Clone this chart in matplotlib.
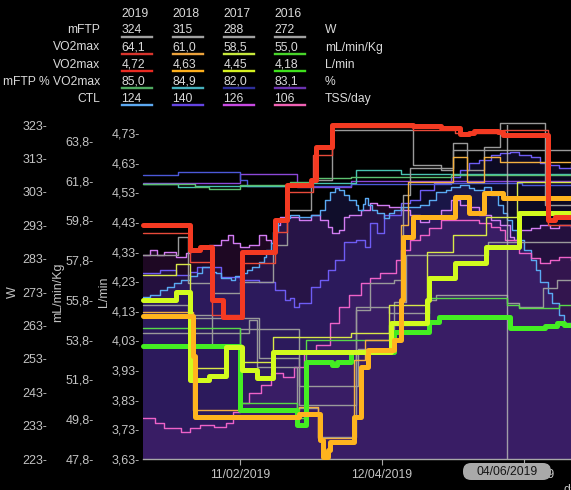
import numpy as np
import matplotlib
matplotlib.use("Agg")
import matplotlib.pyplot as plt
import matplotlib.dates as mdates
from matplotlib.lines import Line2D
from matplotlib.patches import FancyBboxPatch
from matplotlib.transforms import IdentityTransform

plt.rcParams["font.family"] = ["Liberation Sans", "DejaVu Sans"]

# ------------------------------------------------------------------ data
START = "2019-01-01"
END = "2019-06-30T22:00"
cursor_date = "2019-06-04"
x_tick_dates = ["2019-02-11", "2019-04-12", "2019-06-11"]

w_ticks = [223, 233, 243, 253, 263, 273, 283, 293, 303, 313, 323]
ml_ticks = [47.8, 49.8, 51.8, 53.8, 55.8, 57.8, 59.8, 61.8, 63.8]
l_ticks = [3.63, 3.73, 3.83, 3.93, 4.03, 4.13, 4.23, 4.33, 4.43, 4.53, 4.63, 4.73]

years = ["2019", "2018", "2017", "2016"]
row_labels = ["mFTP", "VO2max", "VO2max", "mFTP % VO2max", "CTL"]
row_units = ["W", "mL/min/Kg", "L/min", "%", "TSS/day"]
table_values = [
    ["324", "315", "288", "272"],
    ["64,1", "61,0", "58,5", "55,0"],
    ["4,72", "4,63", "4,45", "4,18"],
    ["85,0", "84,9", "82,0", "83,1"],
    ["124", "140", "126", "106"],
]

# mFTP (W), days since START
mftp_2019_days = [0, 15, 19, 29, 41, 55, 61, 71, 80, 114, 126, 131, 137, 144, 151, 170]
mftp_2019 = [284.1, 289.5, 275.7, 272.7, 276.0, 287.1, 297.6, 306.5, 321.5, 311.0, 309.5, 317.6, 309.5, 316.4, 323.6, 299.0]
mftp_2018_days = [0, 19, 49, 66, 90, 96, 106, 110, 113, 131]
mftp_2018 = [269.1, 265.2, 253.2, 239.2, 267.6, 275.7, 276.6, 302.0, 310.1, 315.5]
mftp_2017_days = [0, 29, 41, 66, 91, 106, 111, 146]
mftp_2017 = [266.0, 257.1, 262.0, 245.0, 256.0, 270.0, 284.1, 288.0]
mftp_2016_days = [0, 45, 48, 65, 74, 90, 104, 121, 124, 154, 159, 169, 175]
mftp_2016 = [260.7, 264.6, 250.5, 238.3, 229.6, 268.5, 266.7, 270.6, 272.1, 269.7, 268.5, 274.2, 276.6]

# VO2max L/min
vo2l_2019_days = [0, 20, 29, 42, 56, 61, 72, 80, 114, 132, 152, 171]
vo2l_2019 = [4.392, 4.295, 4.116, 4.291, 4.396, 4.531, 4.656, 4.750, 4.740, 4.730, 4.740, 4.419]
vo2l_2018_days = [0, 21, 66, 74, 89, 94, 109, 112, 131, 137, 144, 151]
vo2l_2018 = [4.126, 3.795, 3.805, 3.701, 3.964, 4.031, 4.419, 4.565, 4.649, 4.565, 4.649, 4.632]
vo2l_2017_days = [0, 14, 20, 35, 42, 55, 88, 104, 120, 131, 145, 158]
vo2l_2017 = [4.251, 4.288, 3.937, 4.015, 3.957, 4.042, 4.055, 4.150, 4.328, 4.386, 4.446, 4.565]
vo2l_2016_days = [0, 41, 65, 69, 104, 121, 154, 159, 176]
vo2l_2016 = [4.072, 3.819, 3.768, 4.031, 4.082, 4.173, 4.150, 4.139, 4.150]

# VO2max mL/min/Kg
vo2ml_2019_days = [0, 20, 24, 29, 34, 42, 56, 61, 71, 73, 80, 114, 126, 131, 134, 138, 140, 150, 152, 171, 174]
vo2ml_2019 = [59.57, 58.32, 58.47, 55.80, 54.94, 58.22, 59.83, 61.59, 61.84, 63.50, 64.61, 64.55, 64.45, 64.45,
              64.15, 64.20, 64.30, 64.25, 64.10, 59.83, 59.98]
vo2ml_2018_days = [0, 21, 22, 66, 75, 76, 78, 79, 89, 92, 95, 106, 109, 110, 114, 132, 138, 144, 152]
vo2ml_2018 = [54.99, 53.00, 49.91, 50.06, 48.76, 47.90, 48.25, 48.66, 49.91, 52.43, 53.28, 53.79, 55.80, 58.97,
              59.98, 60.98, 60.18, 61.18, 60.93]
vo2ml_2017_days = [0, 14, 20, 28, 35, 42, 48, 55, 105, 120, 121, 132, 145, 159]
vo2ml_2017 = [55.80, 56.20, 51.77, 51.99, 53.44, 52.28, 51.88, 53.18, 54.64, 55.80, 56.91, 57.66, 58.47, 60.18]
vo2ml_2016_days = [0, 41, 65, 69, 80, 82, 88, 106, 121, 125, 155, 170, 175, 178]
vo2ml_2016 = [53.49, 50.27, 49.51, 52.68, 52.53, 52.68, 53.18, 54.19, 54.69, 54.94, 54.39, 54.49, 54.64, 54.54]

# mFTP % VO2max
pct_2019_days = [0, 22, 28, 41, 62, 73, 88, 130]
pct_2019 = [82.3, 81.4, 80.8, 82.0, 82.9, 84.1, 84.4, 85.0]
pct_2018_days = [0, 15, 22, 62, 90, 109]
pct_2018 = [82.3, 81.4, 81.7, 82.6, 86.5, 85.3]
pct_2017_days = [0, 15, 41, 44, 88, 130, 160]
pct_2017 = [85.0, 85.9, 83.5, 81.7, 82.3, 82.6, 82.0]
pct_2016_days = [0, 41, 65, 88]
pct_2016 = [82.6, 85.3, 81.4, 83.1]

# CTL (TSS/day)
ctl_2019_days = [0, 3, 7, 10, 13, 16, 20, 23, 25, 29, 31, 33, 37, 39, 42, 44, 46, 49, 51, 52, 54, 55, 57, 59, 62,
                 66, 71, 75, 77, 79, 81, 83, 85, 87, 90, 91, 93, 94, 95, 97, 99, 102, 104, 106, 109, 113, 117, 121,
                 124, 128, 130, 134, 138, 140, 144, 147, 150, 152, 154, 156, 158, 161, 164, 166, 168, 171, 173, 176, 178]
ctl_2019 = [93.4, 94.0, 95.7, 96.7, 98.0, 99.0, 100.3, 101.3, 103.2, 101.6, 101.3, 99.6, 99.0, 100.3, 101.3, 102.3,
            103.2, 104.9, 106.5, 108.8, 111.2, 114.8, 118.7, 119.4, 120.4, 119.7, 120.4, 122.0, 125.3, 128.0, 129.3,
            128.6, 127.0, 125.3, 123.7, 122.0, 124.0, 126.0, 123.7, 122.0, 121.0, 119.4, 121.0, 122.0, 123.0, 123.0,
            123.7, 125.3, 128.0, 128.6, 129.6, 130.3, 129.3, 128.6, 129.6, 127.0, 123.7, 121.0, 118.7, 115.4, 112.1,
            108.8, 105.6, 102.3, 98.3, 94.7, 91.4, 87.4, 84.8]
ctl_2018_days = [0, 7, 14, 20, 23, 29, 33, 41, 49, 56, 60, 62, 64, 66, 71, 75, 78, 81, 85, 90, 94, 96, 99, 102, 109,
                 113, 117, 123, 130, 134, 138, 142, 147, 151, 155, 159, 164, 168, 172, 176, 181]
ctl_2018 = [101.3, 102.3, 100.6, 101.6, 103.2, 103.2, 99.9, 99.0, 98.3, 95.7, 92.4, 93.0, 90.1, 91.4, 96.7, 99.0,
            102.3, 105.6, 111.5, 112.1, 109.8, 117.7, 114.4, 120.4, 124.3, 125.3, 128.6, 130.9, 132.9, 135.2, 137.5,
            138.5, 140.1, 140.8, 141.1, 140.1, 139.5, 137.5, 136.8, 135.9, 136.8]
ctl_2017_days = [0, 3, 6, 9, 14, 18, 20, 24, 28, 33, 36, 38, 41, 45, 49, 52, 54, 56, 58, 62, 66, 71, 75, 78, 80, 83,
                 85, 87, 92, 96, 99, 104, 109, 113, 117, 121, 126, 130, 134, 138, 142, 147, 151, 155, 157, 159, 164,
                 168, 172, 176, 181]
ctl_2017 = [107.2, 108.8, 107.2, 108.2, 106.5, 107.9, 108.8, 109.5, 110.5, 112.1, 113.8, 111.2, 109.8, 110.5, 113.8,
            112.1, 111.2, 117.1, 119.7, 119.7, 118.7, 120.4, 118.7, 116.4, 114.4, 115.4, 119.7, 120.4, 122.0, 124.3,
            123.7, 123.0, 122.0, 120.4, 118.1, 119.4, 122.0, 125.3, 123.7, 123.0, 120.4, 118.7, 117.1, 113.1, 112.1,
            115.4, 116.1, 117.1, 116.1, 117.1, 116.4]
ctl_2016_days = [0, 5, 9, 16, 20, 24, 30, 35, 38, 41, 45, 50, 54, 59, 64, 68, 73, 79, 83, 87, 92, 96, 100, 107, 109,
                 113, 117, 121, 126, 134, 142, 147, 151, 153, 159, 164, 168, 172, 176, 181]
ctl_2016 = [53.5, 51.9, 50.2, 48.9, 50.2, 51.2, 50.5, 51.9, 55.5, 58.4, 61.7, 64.4, 68.3, 67.0, 70.3, 74.9, 77.6,
            84.8, 90.1, 94.0, 98.0, 99.6, 101.3, 105.6, 108.8, 112.1, 113.8, 116.1, 118.7, 118.7, 117.7, 116.4,
            115.4, 112.1, 107.9, 106.2, 104.6, 105.6, 106.5, 105.6]

# ------------------------------------------------------------------ helpers
FW, FH = 571, 490


def to_dates(days):
    d = np.datetime64(START, "m") + (np.asarray(days) * 24 * 60).astype("timedelta64[m]")
    return np.concatenate([d, [np.datetime64(END, "m")]])


def ext(vals):
    return list(vals) + [vals[-1]]


def step(ax, days, vals, **kw):
    ax.plot(to_dates(days), ext(vals), drawstyle="steps-post", solid_joinstyle="round",
            solid_capstyle="round", clip_on=False, **kw)


def fx(px):
    return px / FW


def fy(py):
    return 1 - py / FH


# ------------------------------------------------------------------ figure
fig = plt.figure(figsize=(FW / 100, FH / 100), dpi=100)
fig.patch.set_facecolor("black")

axL, axB = 143 / FW, 31 / FH
ax_w = fig.add_axes([axL, axB, 1 - axL, 334 / FH])
ax_ctl = ax_w.twinx()
ax_pct = ax_w.twinx()
ax_l = ax_w.twinx()
ax_ml = ax_w.twinx()
for z, a in enumerate([ax_ctl, ax_pct, ax_w, ax_l, ax_ml]):
    a.set_zorder(z + 1)
    a.patch.set_visible(False)
    for s in a.spines.values():
        s.set_visible(False)

# CTL fills + lines
ctl_specs = [
    (ctl_2017_days, ctl_2017, "#d27cf2", "#8c28a0"),
    (ctl_2018_days, ctl_2018, "#6e5cf4", "#3a30a2"),
    (ctl_2019_days, ctl_2019, "#5aaaf2", "#4a42c8"),
    (ctl_2016_days, ctl_2016, "#ee62c8", "#6a2a88"),
]
CTL_LOW = 40
for days, vals, lc, fc in ctl_specs:
    ax_ctl.fill_between(to_dates(days), ext(vals), CTL_LOW, step="post", color=fc, alpha=0.22, lw=0)
for days, vals, lc, fc in ctl_specs:
    ax_ctl.plot(to_dates(days), ext(vals), drawstyle="steps-post", color=lc, lw=1.0)
ax_ctl.set_ylim(CTL_LOW, 150)
ax_ctl.set_yticks([])

# mFTP % lines
for days, vals, c in [(pct_2016_days, pct_2016, "#8c48d8"), (pct_2017_days, pct_2017, "#4c58d8"),
                      (pct_2018_days, pct_2018, "#48c4b0"), (pct_2019_days, pct_2019, "#5cc070")]:
    step(ax_pct, days, vals, color=c, lw=1.0)
ax_pct.set_ylim(0, 100)
ax_pct.set_yticks([])

# mFTP gray lines + cursor
for days, vals in [(mftp_2016_days, mftp_2016), (mftp_2017_days, mftp_2017),
                   (mftp_2018_days, mftp_2018), (mftp_2019_days, mftp_2019)]:
    step(ax_w, days, vals, color="#9a9a9a", lw=1.0)
ax_w.axvline(np.datetime64(cursor_date), color="#b4b4b4", lw=1.0, alpha=0.85)

# VO2max L/min thin lines
for days, vals, c in [(vo2l_2016_days, vo2l_2016, "#58d848"), (vo2l_2017_days, vo2l_2017, "#d8e848"),
                      (vo2l_2018_days, vo2l_2018, "#f4b040"), (vo2l_2019_days, vo2l_2019, "#e84a3a")]:
    step(ax_l, days, vals, color=c, lw=1.0)

# VO2max mL/min/Kg thick lines
for days, vals, c in [(vo2ml_2016_days, vo2ml_2016, "#44ee22"), (vo2ml_2017_days, vo2ml_2017, "#d2fb1e"),
                      (vo2ml_2018_days, vo2ml_2018, "#ffb41e"), (vo2ml_2019_days, vo2ml_2019, "#f43a22")]:
    step(ax_ml, days, vals, color=c, lw=3.6)

# axes limits / ticks
TICK_C = "#c4c4c4"
ax_w.set_xlim(np.datetime64(START), np.datetime64(END))
ax_w.set_ylim(223, 323)
ax_w.set_yticks(w_ticks, labels=[f"{v}-" for v in w_ticks])
ax_w.tick_params(axis="y", length=0, pad=69, labelsize=9, labelcolor=TICK_C)

ax_ml.set_ylim(47.8, 64.6)
ax_ml.yaxis.tick_left()
ax_ml.set_yticks(ml_ticks, labels=[f"{v:.1f}".replace(".", ",") + "-" for v in ml_ticks])
ax_ml.tick_params(axis="y", length=0, pad=35.3, labelsize=9, labelcolor=TICK_C,
                  left=True, right=False, labelleft=True, labelright=False)

ax_l.set_ylim(3.63, 4.757)
ax_l.yaxis.tick_left()
ax_l.set_yticks(l_ticks, labels=[f"{v:.2f}".replace(".", ",") + "-" for v in l_ticks])
ax_l.tick_params(axis="y", length=0, pad=2.2, labelsize=9, labelcolor=TICK_C,
                 left=True, right=False, labelleft=True, labelright=False)

ax_w.set_xticks(np.array(x_tick_dates, dtype="datetime64[D]"))
ax_w.xaxis.set_major_formatter(mdates.DateFormatter("%d/%m/%Y"))
ax_w.xaxis.set_minor_locator(matplotlib.ticker.NullLocator())
ax_w.tick_params(axis="x", length=4, width=0.8, color="#a8a8a8", labelcolor=TICK_C, labelsize=8.7, pad=3)
ax_w.spines["bottom"].set_visible(True)
ax_w.spines["bottom"].set_color("#a8a8a8")
ax_w.spines["bottom"].set_linewidth(1.0)

# axis titles
for x, t in [(13, "W"), (58, "mL/min/Kg"), (104, "L/min")]:
    fig.text(fx(x), fy(292), t, rotation=90, ha="center", va="center", color=TICK_C, fontsize=9)
fig.text(fx(563), fy(490), "date", ha="left", va="center", color=TICK_C, fontsize=8.7)

# cursor date box
box = FancyBboxPatch((463, FH - 480), 88, 17, boxstyle="round,pad=0,rounding_size=8",
                     transform=IdentityTransform(), fc="#a9a9a9", ec="none", zorder=20)
fig.add_artist(box)
cd = np.datetime64(cursor_date).astype(object)
fig.text(fx(507), fy(472), cd.strftime("%d/%m/%Y"), ha="center", va="center",
         color="#151515", fontsize=8.7, zorder=21)

# table
TXT = "#dadada"
col_x = [121.5, 172.5, 223.5, 274.5]
row_base = [33.3, 50.5, 67.5, 84.6, 101.6]
line_y = [36.5, 53.5, 70.7, 87.7, 105.0]
underline_colors = [
    ["#a0a0a0", "#a0a0a0", "#a0a0a0", "#a0a0a0"],
    ["#d8342c", "#eca23c", "#c6e83c", "#48d42a"],
    ["#e82a22", "#fcae1c", "#d4f020", "#3ee01c"],
    ["#4ea860", "#46b0bc", "#2e2e98", "#6a32ae"],
    ["#5ca8f0", "#6444e2", "#c84ae2", "#f062b4"],
]
for j, yr in enumerate(years):
    fig.text(fx(col_x[j]), fy(16.7), yr, ha="left", va="baseline", color=TXT, fontsize=8.7)
for i, lab in enumerate(row_labels):
    fig.text(fx(100), fy(row_base[i]), lab, ha="right", va="baseline", color=TXT, fontsize=8.7)
    fig.text(fx(325), fy(row_base[i]), row_units[i], ha="left", va="baseline", color=TXT, fontsize=8.7)
    for j in range(4):
        fig.text(fx(col_x[j]), fy(row_base[i]), table_values[i][j], ha="left", va="baseline",
                 color=TXT, fontsize=8.7)
        fig.add_artist(Line2D([col_x[j], col_x[j] + 30], [FH - line_y[i], FH - line_y[i]],
                              transform=IdentityTransform(), color=underline_colors[i][j], lw=1.7))

fig.savefig("out.png", dpi=100, facecolor="black")
